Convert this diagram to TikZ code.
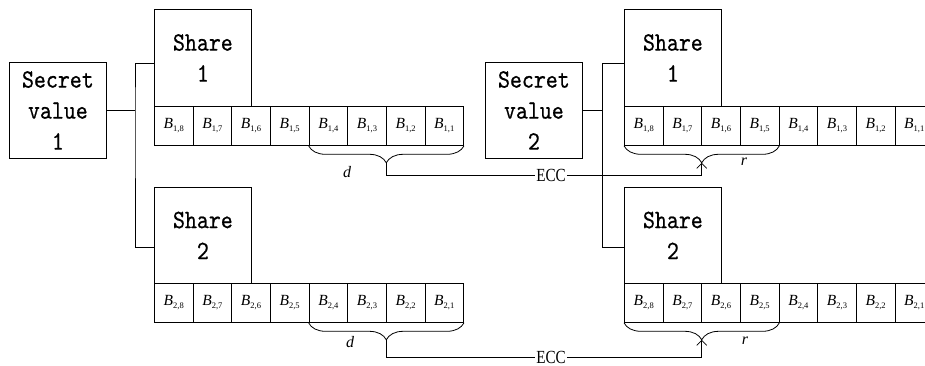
\documentclass[tikz,border=0pt]{standalone}
\usepackage{fontspec}
\setmainfont{Liberation Serif}
\newfontfamily\boxfont{lmmono10-regular.otf}[FakeStretch=0.86,FakeBold=0.5]
\usetikzlibrary{decorations.pathreplacing,arrows.meta,calc}
\newcommand{\blab}[2]{\textit{B}\raisebox{-3pt}{\fontsize{8.5}{8.5}\selectfont #1,#2}}
\begin{document}
\begin{tikzpicture}[x=1pt,y=-1pt,
  box/.style={draw, line width=0.8pt, minimum width=97pt, inner sep=0pt,
    font=\fontsize{26.5}{31}\boxfont, align=center},
  cell/.style={draw, line width=0.8pt, minimum width=38.65pt, minimum height=39pt,
    inner sep=0pt, font=\fontsize{15.5}{15.5}\selectfont},
  conn/.style={line width=0.8pt},
  bracestyle/.style={line width=0.8pt, decorate, decoration={brace, mirror, amplitude=17pt}},
  lbl/.style={font=\fontsize{16}{16}\selectfont\itshape},
  ecc/.style={fill=white, inner sep=1pt, font=\fontsize{18.5}{18.5}\selectfont},
]
\path[use as bounding box, fill=white] (0,0) rectangle (925,366);
\clip (0,0) rectangle (925,366);

% boxes
\node[box, minimum height=96pt, anchor=north west] (sv1) at (9,62) {Secret\\value\\1};
\node[box, minimum height=96pt, anchor=north west] (sv2) at (485,62) {Secret\\value\\2};
\node[box, minimum height=97pt, anchor=north west] (s11) at (154,9) {Share\\1};
\node[box, minimum height=96pt, anchor=north west] (s12) at (154,187) {Share\\2};
\node[box, minimum height=97pt, anchor=north west] (s21) at (624,9) {Share\\1};
\node[box, minimum height=96pt, anchor=north west] (s22) at (624,187) {Share\\2};

% cells
\foreach \i [count=\k] in {8,7,6,5,4,3,2,1} {
  \node[cell, anchor=north west] (L1-\i) at ({154+38.65*(\k-1)},106) {\blab{1}{\i}};
  \node[cell, anchor=north west] (L2-\i) at ({154+38.65*(\k-1)},283) {\blab{2}{\i}};
  \node[cell, anchor=north west] (R1-\i) at ({624+38.65*(\k-1)},106) {\blab{1}{\i}};
  \node[cell, anchor=north west] (R2-\i) at ({624+38.65*(\k-1)},283) {\blab{2}{\i}};
}

% connectors from secret values to shares
\coordinate (j1) at (sv1.east -| 135,0);
\coordinate (j2) at (sv2.east -| 602,0);
\draw[conn] (sv1.east) -- (j1);
\draw[conn] ([yshift=-6pt]s11.west) -| (j1) |- ([yshift=-12pt]s12.west);
\draw[conn] (sv2.east) -- (j2);
\draw[conn] ([yshift=-6pt]s21.west) -| (j2) |- ([yshift=-12pt]s22.west);

% braces
\draw[bracestyle] (L1-4.south west) -- (L1-1.south east);
\draw[bracestyle] (L2-4.south west) -- (L2-1.south east);
\draw[bracestyle] (R1-8.south west) -- (R1-5.south east);
\draw[bracestyle] (R2-8.south west) -- (R2-5.south east);

\coordinate (tL1) at ($(L1-4.south west)!0.5!(L1-1.south east)+(0,17)$);
\coordinate (tL2) at ($(L2-4.south west)!0.5!(L2-1.south east)+(0,17)$);
\coordinate (tR1) at ($(R1-8.south west)!0.5!(R1-5.south east)+(0,17)$);
\coordinate (tR2) at ($(R2-8.south west)!0.5!(R2-5.south east)+(0,17)$);

% labels
\node[lbl] (d1) at (347,172) {d};
\node[lbl] (r1) at (744,162) {r};
\node[lbl] (d2) at (350,342) {d};
\node[lbl] (r2) at (745,341) {r};

% ECC links
\node[ecc] (e1) at (551,175) {\scalebox{0.82}[1]{ECC}};
\node[ecc] (e2) at (551,357) {\scalebox{0.82}[1]{ECC}};
\draw[conn] (tL1) |- (e1.west);
\draw[conn, -{Straight Barb[length=5pt,width=10pt]}] (e1.east) -| (tR1);
\draw[conn] (tL2) |- (e2.west);
\draw[conn, -{Straight Barb[length=5pt,width=10pt]}] (e2.east) -| (tR2);
\end{tikzpicture}
\end{document}
